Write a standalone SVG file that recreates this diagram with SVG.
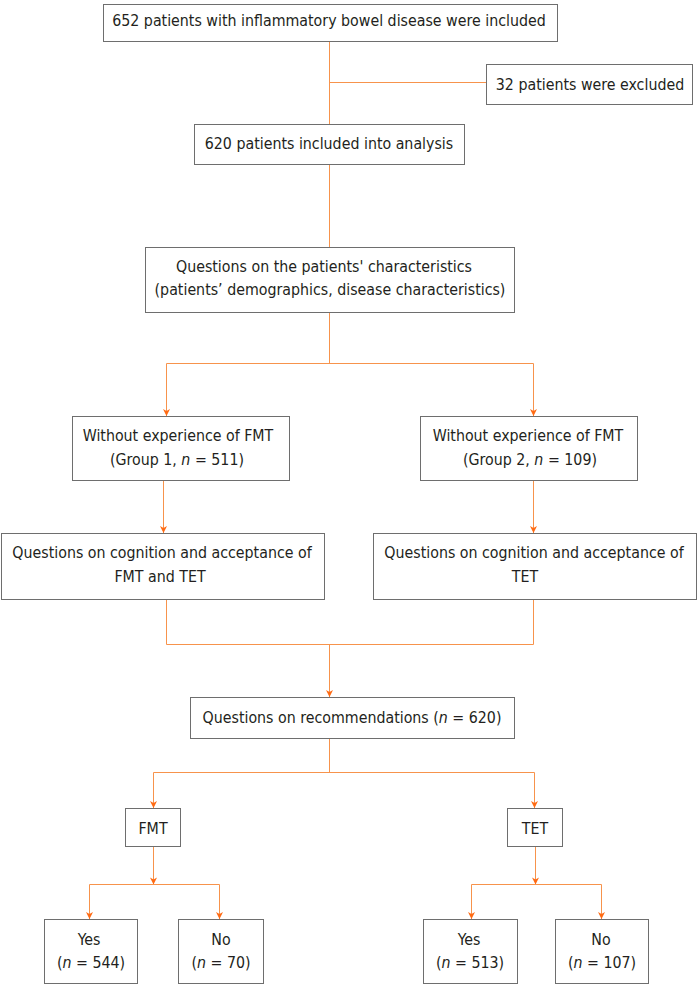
<svg xmlns="http://www.w3.org/2000/svg" width="697" height="986" viewBox="0 0 697 986">
<style>
.box{fill:#ffffff;stroke:#6e6e6e;stroke-width:1}
.t{font-family:"DejaVu Sans Condensed","DejaVu Sans",sans-serif;font-stretch:condensed;font-size:15.8px;fill:#231f20;text-anchor:middle}
.i{font-style:italic}
.c{fill:none;stroke:#f7934c;stroke-width:1}
.a{fill:none;stroke:#f7934c;stroke-width:1;marker-end:url(#ah)}
</style>
<defs>
<marker id="ah" viewBox="0 0 10 10" refX="10" refY="5" markerWidth="9" markerHeight="7" markerUnits="userSpaceOnUse" orient="auto">
<path d="M0,0 L10,5 L0,10 L3,5 z" fill="#ff6a13"/>
</marker>
</defs>
<rect width="697" height="986" fill="#ffffff"/>
<g id="connectors">
<path class="c" d="M329.5,41 V124"/>
<path class="c" d="M329.5,82.5 H486"/>
<path class="c" d="M329.5,164 V247"/>
<path class="c" d="M329.5,312 V363.5 M166.5,363.5 H533.5"/>
<path class="a" d="M166.5,363.5 V416"/>
<path class="a" d="M533.5,363.5 V416"/>
<path class="a" d="M163.5,480 V533"/>
<path class="a" d="M533.5,480 V533"/>
<path class="c" d="M166.5,599 V644.5 H533.5 V599"/>
<path class="a" d="M329.5,644.5 V697"/>
<path class="c" d="M329.5,738 V772.5 M153.5,772.5 H534.5"/>
<path class="a" d="M153.5,772.5 V808"/>
<path class="a" d="M534.5,772.5 V808"/>
<path class="a" d="M153.5,846 V884.5"/>
<path class="c" d="M89.5,884.5 H219.5"/>
<path class="a" d="M89.5,884.5 V919"/>
<path class="a" d="M219.5,884.5 V919"/>
<path class="a" d="M535.5,846 V884.5"/>
<path class="c" d="M471.5,884.5 H601.5"/>
<path class="a" d="M471.5,884.5 V919"/>
<path class="a" d="M601.5,884.5 V919"/>
</g>
<g id="n1"><rect class="box" x="103.5" y="4.5" width="454" height="37"/><text class="t" x="329" y="26">652 patients with inflammatory bowel disease were included</text></g>
<g id="n2"><rect class="box" x="486.5" y="64.5" width="206" height="40"/><text class="t" x="590" y="90">32 patients were excluded</text></g>
<g id="n3"><rect class="box" x="194.5" y="124.5" width="270" height="40"/><text class="t" x="329" y="149">620 patients included into analysis</text></g>
<g id="n4"><rect class="box" x="145.5" y="247.5" width="369" height="65"/><text class="t" x="324" y="272">Questions on the patients' characteristics</text><text class="t" x="330" y="295">(patients’ demographics, disease characteristics)</text></g>
<g id="n5"><rect class="box" x="72.5" y="416.5" width="217" height="64"/><text class="t" x="178" y="441">Without experience of FMT</text><text class="t" x="177" y="465">(Group 1, <tspan class="i">n</tspan> = 511)</text></g>
<g id="n6"><rect class="box" x="420.5" y="416.5" width="217" height="64"/><text class="t" x="528" y="441">Without experience of FMT</text><text class="t" x="530" y="465">(Group 2, <tspan class="i">n</tspan> = 109)</text></g>
<g id="n7"><rect class="box" x="1.5" y="533.5" width="323" height="66"/><text class="t" x="162" y="558">Questions on cognition and acceptance of</text><text class="t" x="160" y="582">FMT and TET</text></g>
<g id="n8"><rect class="box" x="373.5" y="533.5" width="323" height="66"/><text class="t" x="534" y="558">Questions on cognition and acceptance of</text><text class="t" x="525" y="582">TET</text></g>
<g id="n9"><rect class="box" x="190.5" y="697.5" width="324" height="41"/><text class="t" x="352" y="723">Questions on recommendations (<tspan class="i">n</tspan> = 620)</text></g>
<g id="n10"><rect class="box" x="125.5" y="808.5" width="55" height="38"/><text class="t" x="153" y="834">FMT</text></g>
<g id="n11"><rect class="box" x="507.5" y="808.5" width="55" height="38"/><text class="t" x="535" y="834">TET</text></g>
<g id="n12"><rect class="box" x="44.5" y="919.5" width="93" height="64"/><text class="t" x="89" y="945">Yes</text><text class="t" x="91" y="968">(<tspan class="i">n</tspan> = 544)</text></g>
<g id="n13"><rect class="box" x="178.5" y="919.5" width="85" height="64"/><text class="t" x="221" y="945">No</text><text class="t" x="221" y="968">(<tspan class="i">n</tspan> = 70)</text></g>
<g id="n14"><rect class="box" x="423.5" y="919.5" width="94" height="64"/><text class="t" x="469" y="945">Yes</text><text class="t" x="470" y="968">(<tspan class="i">n</tspan> = 513)</text></g>
<g id="n15"><rect class="box" x="555.5" y="919.5" width="93" height="64"/><text class="t" x="601" y="945">No</text><text class="t" x="602" y="968">(<tspan class="i">n</tspan> = 107)</text></g>
</svg>
